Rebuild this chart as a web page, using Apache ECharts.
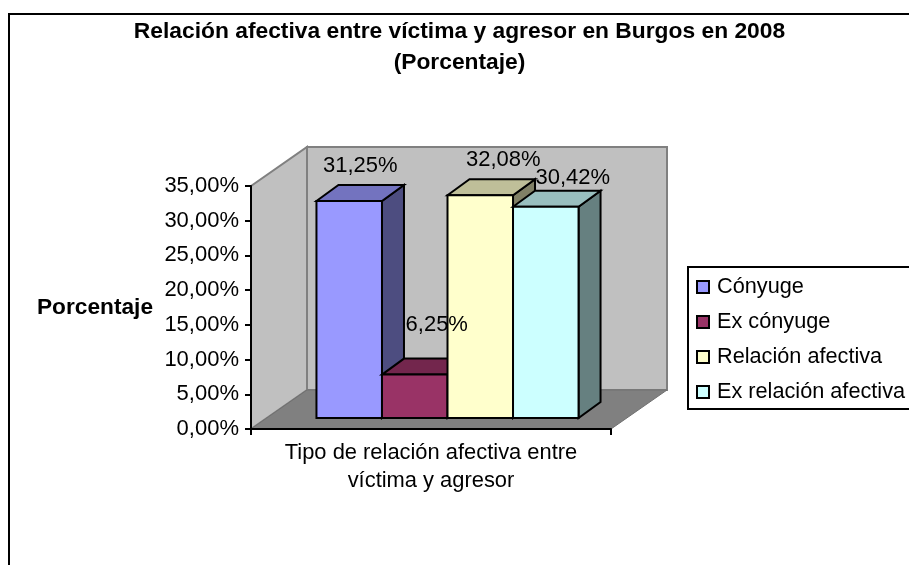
<!DOCTYPE html>
<html>
<head>
<meta charset="utf-8">
<title>Relación afectiva</title>
<script src="https://cdn.jsdelivr.net/npm/echarts@6/dist/echarts.min.js"></script>
<style>
  html, body { margin: 0; padding: 0; background: #fff; }
  #chart { width: 909px; height: 565px; }
</style>
</head>
<body>
<div id="chart"></div>
<script>
var titulo = 'Relación afectiva entre víctima y agresor en Burgos en 2008\n(Porcentaje)';
var tituloX = 'Tipo de relación afectiva entre\nvíctima y agresor';
var tituloY = 'Porcentaje';
var categorias = [''];
var nombres = ['Cónyuge', 'Ex cónyuge', 'Relación afectiva', 'Ex relación afectiva'];
var valores = [31.25, 6.25, 32.08, 30.42];
var etiquetas = ['31,25%', '6,25%', '32,08%', '30,42%'];
var colores = ['#9999ff', '#993366', '#ffffcc', '#ccffff'];

// las etiquetas estan movidas a mano en el original
var ajusteEtiqueta = [[0, -19], [11, -34], [12, -19], [16, -13]];

var fuente = '"Liberation Sans", Arial, sans-serif';
var fondoX = 56, fondoY = -39;   // profundidad de la caja
var margenX = 16.5, margenY = -11; // donde empieza la barra dentro del suelo
var barraX = 22, barraY = -16;   // profundidad de la barra
var anchoBarra = 0.182;          // parte de la categoria

var myChart = echarts.init(document.getElementById('chart'));

function oscurecer(color, k) {
	var c = echarts.color.parse(color);
	return 'rgb(' + Math.round(c[0] * k) + ',' + Math.round(c[1] * k) + ',' + Math.round(c[2] * k) + ')';
}

function poligono(puntos, relleno, borde, grosor, z2) {
	return {
		type: 'polygon',
		z2: z2,
		shape: { points: puntos },
		style: { fill: relleno, stroke: borde, lineWidth: grosor, lineJoin: 'miter' }
	};
}

function dibujarCaja(params, api) {
	var sup = api.coord([0, 35]);
	var inf = api.coord([0, 0]);
	var mitad = api.size([1, 0])[0] / 2;
	var izq = inf[0] - mitad, der = inf[0] + mitad;
	var arriba = sup[1], abajo = inf[1];
	return {
		type: 'group',
		children: [
			poligono([[izq, arriba], [izq + fondoX, arriba + fondoY], [izq + fondoX, abajo + fondoY], [izq, abajo]], '#c0c0c0', '#808080', 2, 0),
			poligono([[izq + fondoX, arriba + fondoY], [der + fondoX, arriba + fondoY], [der + fondoX, abajo + fondoY], [izq + fondoX, abajo + fondoY]], '#c0c0c0', '#808080', 2, 0),
			poligono([[izq, abajo], [izq + fondoX, abajo + fondoY], [der + fondoX, abajo + fondoY], [der, abajo]], '#808080', '#707070', 1, 0)
		]
	};
}

function dibujarBarra(i) {
	return function (params, api) {
		var p = api.coord([0, api.value(1)]);
		var base = api.coord([0, 0]);
		var w = api.size([1, 0])[0] * anchoBarra;
		var x0 = p[0] + margenX + (i - 2) * w;
		var x1 = x0 + w;
		var y0 = p[1] + margenY;
		var y1 = base[1] + margenY;
		var color = colores[i];
		var centro = (x0 + x1) / 2 + barraX / 2;
		return {
			type: 'group',
			children: [
				poligono([[x1, y0], [x1 + barraX, y0 + barraY], [x1 + barraX, y1 + barraY], [x1, y1]], oscurecer(color, 0.5), '#000', 2, i + 1),
				poligono([[x0, y0], [x0 + barraX, y0 + barraY], [x1 + barraX, y0 + barraY], [x1, y0]], oscurecer(color, 0.75), '#000', 2, i + 1),
				poligono([[x0, y0], [x1, y0], [x1, y1], [x0, y1]], color, '#000', 2, i + 1),
				{
					type: 'text',
					z2: 100,
					style: {
						text: etiquetas[i],
						x: centro + ajusteEtiqueta[i][0],
						y: y0 + barraY + ajusteEtiqueta[i][1],
						align: 'center',
						verticalAlign: 'middle',
						fill: '#000',
						font: '22px ' + fuente
					}
				}
			]
		};
	};
}

var series = [{
	name: 'caja',
	type: 'custom',
	z: 1,
	silent: true,
	clip: false,
	renderItem: dibujarCaja,
	data: [[0, 35]]
}];

nombres.forEach(function (nombre, i) {
	series.push({
		name: nombre,
		type: 'custom',
		z: 2,
		clip: false,
		itemStyle: { color: colores[i], borderColor: '#000', borderWidth: 1 },
		renderItem: dibujarBarra(i),
		data: [[0, valores[i]]]
	});
});

var option = {
	animation: false,
	backgroundColor: '#fff',
	textStyle: { fontFamily: fuente, color: '#000' },
	title: {
		text: titulo,
		left: 459.5,
		top: 16,
		padding: 0,
		textAlign: 'center',
		textStyle: { fontFamily: fuente, fontSize: 22.8, fontWeight: 'bold', color: '#000', lineHeight: 31 }
	},
	grid: { left: 251, top: 186, width: 360, height: 243 },
	legend: {
		data: nombres,
		orient: 'vertical',
		left: 688,
		top: 267,
		icon: 'rect',
		itemWidth: 12,
		itemHeight: 12,
		itemGap: 11,
		padding: [8, 40, 5, 8],
		borderColor: '#000',
		borderWidth: 2,
		backgroundColor: '#fff',
		selectedMode: false,
		textStyle: { fontFamily: fuente, fontSize: 21.7, color: '#000', lineHeight: 24, padding: [0, 0, 0, 3] }
	},
	xAxis: {
		type: 'category',
		data: categorias,
		z: 3,
		name: tituloX,
		nameLocation: 'middle',
		nameGap: 10,
		nameTextStyle: { fontFamily: fuente, fontSize: 21.9, color: '#000', lineHeight: 28, verticalAlign: 'top' },
		axisLine: { lineStyle: { color: '#000', width: 2 } },
		axisTick: { show: true, interval: 0, alignWithLabel: false, length: 6, lineStyle: { color: '#000', width: 2 } },
		axisLabel: { show: false }
	},
	yAxis: {
		type: 'value',
		min: 0,
		max: 35,
		interval: 5,
		z: 3,
		name: tituloY,
		nameLocation: 'middle',
		nameRotate: 0,
		nameGap: 98,
		nameTextStyle: { fontFamily: fuente, fontSize: 22.7, fontWeight: 'bold', color: '#000' },
		axisLine: { show: true, lineStyle: { color: '#000', width: 2 } },
		axisTick: { show: true, length: 6, lineStyle: { color: '#000', width: 2 } },
		splitLine: { show: false },
		axisLabel: {
			fontFamily: fuente,
			fontSize: 22,
			color: '#000',
			margin: 12,
			formatter: function (v) { return v.toFixed(2).replace('.', ',') + '%'; }
		}
	},
	graphic: [{
		type: 'rect',
		silent: true,
		shape: { x: 9, y: 14, width: 1200, height: 1200 },
		style: { fill: 'none', stroke: '#000', lineWidth: 2 }
	}],
	series: series
};

myChart.setOption(option);
</script>
</body>
</html>
